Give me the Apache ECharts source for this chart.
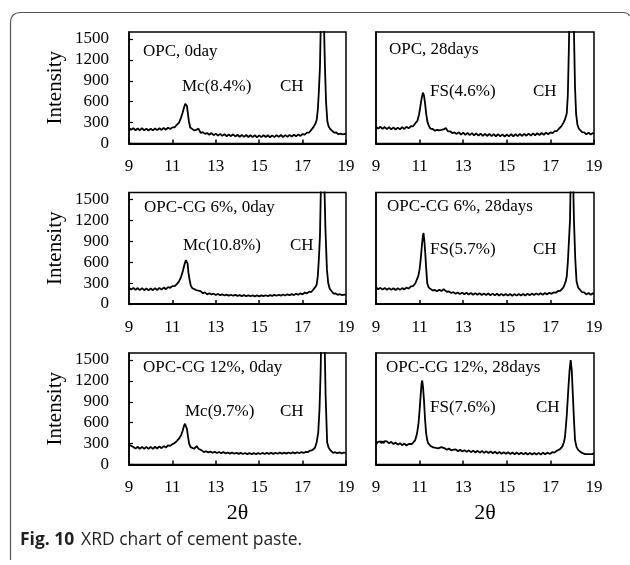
<!DOCTYPE html>
<html>
<head>
<meta charset="utf-8">
<script src="https://cdn.jsdelivr.net/npm/echarts@6/dist/echarts.min.js"></script>
<style>html,body{margin:0;padding:0;background:#fff}#c{width:630px;height:565px}</style>
</head>
<body>
<div id="c"></div>
<script>
// ---------------- data ----------------
var panelTitles = ['OPC, 0day', 'OPC, 28days', 'OPC-CG 6%, 0day', 'OPC-CG 6%, 28days', 'OPC-CG 12%, 0day', 'OPC-CG 12%, 28days'];
var peakLabels = ['Mc(8.4%)', 'FS(4.6%)', 'Mc(10.8%)', 'FS(5.7%)', 'Mc(9.7%)', 'FS(7.6%)'];
var chLabel = 'CH';
var xTicks = [9, 11, 13, 15, 17, 19];
var yTicks = [0, 300, 600, 900, 1200, 1500];
var xTitle = '2θ';
var yTitle = 'Intensity';
var caption = ['Fig. 10', 'XRD chart of cement paste.'];

var opc0 = [[9.0,222],[9.1,198],[9.2,220],[9.3,190],[9.4,216],[9.5,191],[9.6,219],[9.7,189],[9.8,214],[9.9,186],[10.0,211],[10.1,188],[10.2,216],[10.3,192],[10.4,218],[10.5,195],[10.6,222],[10.7,198],[10.8,226],[10.9,207],[11.0,232],[11.1,232],[11.2,266],[11.3,296],[11.4,372],[11.47,440],[11.53,510],[11.59,570],[11.63,590],[11.67,540],[11.71,440],[11.76,320],[11.82,230],[11.9,210],[12.0,188],[12.1,194],[12.2,214],[12.3,152],[12.4,162],[12.5,138],[12.6,150],[12.7,126],[12.8,150],[12.9,119],[13.0,142],[13.1,113],[13.2,138],[13.3,109],[13.4,134],[13.5,104],[13.6,130],[13.7,105],[13.8,132],[13.9,101],[14.0,126],[14.1,97],[14.2,124],[14.3,95],[14.4,122],[14.5,93],[14.6,120],[14.7,91],[14.8,118],[14.9,89],[15.0,116],[15.1,91],[15.2,120],[15.3,93],[15.4,118],[15.5,89],[15.6,116],[15.7,91],[15.8,120],[15.9,95],[16.0,122],[16.1,93],[16.2,120],[16.3,97],[16.4,124],[16.5,99],[16.6,126],[16.7,103],[16.8,130],[16.9,109],[17.0,136],[17.1,128],[17.2,156],[17.3,158],[17.4,196],[17.5,235],[17.6,290],[17.65,340],[17.7,480],[17.75,750],[17.8,1100],[17.85,1900],[17.91,2800],[17.97,1900],[18.03,1100],[18.08,600],[18.14,320],[18.2,245],[18.28,205],[18.36,188],[18.45,156],[18.55,158],[18.65,133],[18.75,141],[18.85,131],[18.95,139],[19.0,128]];

var opc28 = [[9.0,240],[9.1,214],[9.2,240],[9.3,209],[9.4,236],[9.5,206],[9.6,234],[9.7,203],[9.8,232],[9.9,201],[10.0,228],[10.1,203],[10.2,234],[10.3,209],[10.4,240],[10.5,217],[10.6,248],[10.7,247],[10.8,288],[10.9,326],[10.97,410],[11.03,520],[11.09,640],[11.15,730],[11.2,690],[11.25,580],[11.3,430],[11.36,310],[11.43,250],[11.5,212],[11.6,208],[11.7,184],[11.8,195],[11.9,190],[12.0,196],[12.1,202],[12.2,222],[12.3,174],[12.4,175],[12.5,150],[12.6,159],[12.7,138],[12.8,160],[12.9,128],[13.0,155],[13.1,124],[13.2,151],[13.3,120],[13.4,149],[13.5,118],[13.6,145],[13.7,114],[13.8,141],[13.9,110],[14.0,139],[14.1,108],[14.2,137],[14.3,106],[14.4,135],[14.5,104],[14.6,133],[14.7,102],[14.8,131],[14.9,100],[15.0,129],[15.1,102],[15.2,133],[15.3,104],[15.4,135],[15.5,106],[15.6,137],[15.7,108],[15.8,139],[15.9,112],[16.0,141],[16.1,114],[16.2,145],[16.3,118],[16.4,147],[16.5,122],[16.6,151],[16.7,126],[16.8,155],[16.9,132],[17.0,159],[17.1,150],[17.2,178],[17.3,179],[17.4,215],[17.5,245],[17.6,300],[17.65,330],[17.7,380],[17.75,430],[17.8,700],[17.85,1400],[17.9,2400],[17.97,3000],[18.04,2400],[18.08,1600],[18.13,800],[18.18,420],[18.24,270],[18.3,215],[18.38,194],[18.45,162],[18.55,160],[18.65,131],[18.75,155],[18.85,127],[18.95,152],[19.0,134]];

var cg6d0 = [[9.0,236],[9.1,207],[9.2,232],[9.3,202],[9.4,229],[9.5,199],[9.6,227],[9.7,198],[9.8,225],[9.9,196],[10.0,222],[10.1,198],[10.2,227],[10.3,201],[10.4,231],[10.5,206],[10.6,236],[10.7,212],[10.8,242],[10.9,233],[11.0,257],[11.1,256],[11.2,284],[11.3,320],[11.4,390],[11.48,470],[11.55,560],[11.62,630],[11.66,650],[11.7,580],[11.74,450],[11.79,350],[11.85,260],[11.92,226],[12.0,198],[12.1,200],[12.2,191],[12.3,184],[12.4,152],[12.5,168],[12.6,138],[12.7,155],[12.8,137],[12.9,148],[13.0,130],[13.1,143],[13.2,127],[13.3,139],[13.4,123],[13.5,135],[13.6,121],[13.7,133],[13.8,119],[13.9,130],[14.0,116],[14.1,128],[14.2,114],[14.3,127],[14.4,113],[14.5,125],[14.6,111],[14.7,124],[14.8,110],[14.9,123],[15.0,109],[15.1,124],[15.2,112],[15.3,126],[15.4,114],[15.5,128],[15.6,116],[15.7,130],[15.8,118],[15.9,133],[16.0,120],[16.1,136],[16.2,122],[16.3,139],[16.4,125],[16.5,142],[16.6,128],[16.7,146],[16.8,132],[16.9,153],[17.0,138],[17.1,165],[17.2,152],[17.3,178],[17.4,172],[17.5,210],[17.6,250],[17.65,280],[17.7,400],[17.75,650],[17.8,970],[17.85,1800],[17.92,2800],[17.99,1900],[18.05,1100],[18.12,500],[18.18,300],[18.25,220],[18.33,186],[18.42,150],[18.52,152],[18.62,132],[18.72,140],[18.82,128],[18.92,136],[19.0,126]];

var cg6d28 = [[9.0,238],[9.1,212],[9.2,232],[9.3,206],[9.4,230],[9.5,204],[9.6,228],[9.7,203],[9.8,226],[9.9,202],[10.0,225],[10.1,206],[10.2,228],[10.3,210],[10.4,236],[10.5,219],[10.6,252],[10.7,256],[10.8,294],[10.87,322],[10.94,400],[11.0,500],[11.05,640],[11.1,820],[11.15,980],[11.18,1018],[11.22,900],[11.26,730],[11.3,520],[11.35,298],[11.42,235],[11.5,218],[11.6,195],[11.7,201],[11.8,183],[11.9,205],[12.0,185],[12.1,212],[12.17,216],[12.25,176],[12.35,180],[12.45,158],[12.55,170],[12.65,146],[12.75,166],[12.85,142],[12.95,163],[13.05,139],[13.15,161],[13.25,136],[13.35,158],[13.45,134],[13.55,156],[13.65,132],[13.75,154],[13.85,130],[13.95,152],[14.05,129],[14.15,151],[14.25,126],[14.35,149],[14.45,124],[14.55,147],[14.65,122],[14.75,145],[14.85,121],[14.95,144],[15.05,120],[15.15,143],[15.25,119],[15.35,142],[15.45,120],[15.55,143],[15.65,121],[15.75,145],[15.85,123],[15.95,147],[16.05,125],[16.15,149],[16.25,128],[16.35,152],[16.45,131],[16.55,155],[16.65,134],[16.75,158],[16.85,138],[16.95,162],[17.05,146],[17.15,166],[17.25,162],[17.35,186],[17.45,190],[17.52,210],[17.6,240],[17.65,280],[17.7,320],[17.75,394],[17.8,600],[17.85,900],[17.9,1210],[17.94,2000],[17.98,2600],[18.03,2000],[18.08,1210],[18.14,650],[18.2,322],[18.28,230],[18.36,206],[18.45,172],[18.55,166],[18.65,138],[18.75,158],[18.85,132],[18.95,154],[19.0,140]];

var cg12d0 = [[9.0,312],[9.03,280],[9.07,262],[9.12,254],[9.2,250],[9.3,228],[9.4,254],[9.5,226],[9.6,254],[9.7,225],[9.8,253],[9.9,224],[10.0,252],[10.1,225],[10.2,255],[10.3,230],[10.4,259],[10.5,234],[10.6,265],[10.7,242],[10.8,274],[10.9,268],[11.0,292],[11.1,306],[11.2,336],[11.3,370],[11.4,420],[11.47,480],[11.53,550],[11.58,585],[11.63,560],[11.67,510],[11.72,400],[11.77,300],[11.84,250],[11.92,230],[12.0,226],[12.06,244],[12.12,264],[12.2,226],[12.27,200],[12.35,203],[12.45,178],[12.55,190],[12.65,174],[12.75,186],[12.85,168],[12.95,182],[13.05,164],[13.15,180],[13.25,162],[13.35,178],[13.45,158],[13.55,173],[13.65,156],[13.75,171],[13.85,154],[13.95,169],[14.05,152],[14.15,167],[14.25,150],[14.35,165],[14.45,149],[14.55,164],[14.65,148],[14.75,163],[14.85,149],[14.95,164],[15.05,150],[15.15,166],[15.25,151],[15.35,167],[15.45,152],[15.55,168],[15.65,153],[15.75,169],[15.85,154],[15.95,170],[16.05,155],[16.15,171],[16.25,156],[16.35,172],[16.45,158],[16.55,174],[16.65,160],[16.75,176],[16.85,162],[16.95,178],[17.05,166],[17.15,182],[17.25,178],[17.35,200],[17.45,205],[17.5,220],[17.57,240],[17.65,320],[17.72,456],[17.78,800],[17.83,1320],[17.88,2200],[17.94,2800],[18.0,2000],[18.06,1000],[18.13,320],[18.2,240],[18.3,198],[18.4,168],[18.5,176],[18.6,162],[18.7,174],[18.8,160],[18.9,172],[19.0,162]];

var cg12d28 = [[9.0,290],[9.04,308],[9.1,326],[9.15,298],[9.2,332],[9.25,302],[9.3,336],[9.35,306],[9.4,336],[9.45,308],[9.5,332],[9.6,304],[9.7,326],[9.8,294],[9.9,314],[10.0,284],[10.1,306],[10.2,277],[10.3,300],[10.4,272],[10.5,296],[10.57,272],[10.65,294],[10.72,310],[10.8,350],[10.88,440],[10.95,590],[11.0,780],[11.05,1000],[11.09,1160],[11.12,1205],[11.16,1100],[11.2,926],[11.25,650],[11.3,446],[11.35,350],[11.4,302],[11.5,265],[11.63,245],[11.75,238],[11.85,232],[11.93,246],[12.0,250],[12.07,232],[12.15,232],[12.25,210],[12.35,230],[12.45,202],[12.56,214],[12.66,218],[12.76,190],[12.86,212],[12.96,186],[13.06,206],[13.16,181],[13.26,203],[13.36,177],[13.46,199],[13.56,173],[13.66,196],[13.76,170],[13.86,193],[13.96,167],[14.06,189],[14.16,164],[14.26,186],[14.36,161],[14.46,183],[14.56,158],[14.66,180],[14.76,155],[14.86,177],[14.96,153],[15.06,175],[15.16,150],[15.26,173],[15.36,148],[15.46,171],[15.56,146],[15.66,169],[15.76,145],[15.86,168],[15.96,144],[16.06,167],[16.16,143],[16.26,166],[16.36,143],[16.46,167],[16.56,144],[16.66,168],[16.76,146],[16.86,170],[16.98,150],[17.08,176],[17.18,170],[17.28,194],[17.36,196],[17.44,220],[17.55,260],[17.62,320],[17.67,398],[17.75,700],[17.82,1070],[17.88,1350],[17.93,1500],[17.98,1350],[18.02,1070],[18.08,650],[18.13,350],[18.2,250],[18.28,206],[18.36,192],[18.45,166],[18.52,170],[18.59,150],[18.68,172],[18.76,149],[18.84,170],[18.92,148],[19.0,164]];

var seriesData = [opc0, opc28, cg6d0, cg6d28, cg12d0, cg12d28];

// ---------------- layout ----------------
var SERIF = 'Liberation Serif, Times New Roman, serif';
var colLeft = [129, 376];
var colWidth = [217, 218];
var rowTop = [32, 192.5, 353];
var rowHeight = 111.5;
var textPos = [
  [[143, 52], [182, 87], [280, 87]],
  [[389, 50], [430, 92], [533, 92]],
  [[144, 208], [183, 246], [290, 246]],
  [[387, 207], [430, 250], [533, 250]],
  [[143, 368], [185, 412], [280, 412]],
  [[386, 368], [430, 408], [536, 408]]
];

var grids = [], xAxes = [], yAxes = [], series = [], graphics = [];
for (var i = 0; i < 6; i++) {
  var row = Math.floor(i / 2), col = i % 2;
  grids.push({
    left: colLeft[col], top: rowTop[row], width: colWidth[col], height: rowHeight,
    show: true, borderColor: '#000', borderWidth: 1.5, backgroundColor: 'transparent'
  });
  xAxes.push({
    type: 'value', gridIndex: i, min: xTicks[0], max: xTicks[xTicks.length - 1], interval: 2,
    axisLine: { lineStyle: { color: '#000', width: 2 } },
    axisTick: { inside: true, length: 4, lineStyle: { color: '#000', width: 1.5 } },
    axisLabel: { color: '#000', fontFamily: SERIF, fontSize: 17, margin: 15 },
    splitLine: { show: false },
    name: row === 2 ? xTitle : '', nameLocation: 'middle', nameGap: 38,
    nameTextStyle: { color: '#000', fontFamily: SERIF, fontSize: 22 }
  });
  yAxes.push({
    type: 'value', gridIndex: i, min: yTicks[0], max: 1600, interval: 300,
    axisLine: { show: true, lineStyle: { color: '#000', width: 1.5 } },
    axisTick: { show: col === 0, inside: true, length: 4, lineStyle: { color: '#000', width: 1.2 } },
    axisLabel: {
      show: col === 0, showMaxLabel: false, color: '#000', fontFamily: SERIF, fontSize: 17, margin: 20,
      formatter: function (v) { return String(v); }
    },
    splitLine: { show: false },
    name: col === 0 ? yTitle : '', nameLocation: 'middle', nameGap: 63, nameRotate: 90,
    nameTextStyle: { color: '#000', fontFamily: SERIF, fontSize: 21 }
  });
  series.push({
    type: 'line', xAxisIndex: i, yAxisIndex: i, data: seriesData[i],
    symbol: 'none', showSymbol: false, clip: true,
    lineStyle: { color: '#000', width: 1.8 }, silent: true
  });
  var texts = [panelTitles[i], peakLabels[i], chLabel];
  for (var k = 0; k < 3; k++) {
    graphics.push({
      type: 'text', x: textPos[i][k][0], y: textPos[i][k][1],
      style: { text: texts[k], fill: '#000', fontFamily: SERIF, fontSize: 17, verticalAlign: 'middle', align: 'left' }
    });
  }
}

// frame (top + left edges, rounded corners)
var frameStyle = { stroke: '#555', lineWidth: 1.2, fill: null };
graphics.push({ type: 'line', shape: { x1: 10.5, y1: 560, x2: 10.5, y2: 23 }, style: frameStyle });
graphics.push({ type: 'bezierCurve', shape: { x1: 10.5, y1: 23, cpx1: 10.5, cpy1: 12.5, x2: 21, y2: 12.5 }, style: frameStyle });
graphics.push({ type: 'line', shape: { x1: 21, y1: 12.5, x2: 623, y2: 12.5 }, style: frameStyle });
graphics.push({ type: 'bezierCurve', shape: { x1: 623, y1: 12.5, cpx1: 628, cpy1: 12.5, x2: 629.5, y2: 16 }, style: frameStyle });
// caption
graphics.push({
  type: 'text', x: 20, y: 540,
  style: {
    text: '{b|' + caption[0] + '}  {n|' + caption[1] + '}',
    verticalAlign: 'middle',
    rich: {
      b: { fontFamily: 'Open Sans, Noto Sans, sans-serif', fontWeight: 'bold', fontSize: 17.5, fill: '#231f20' },
      n: { fontFamily: 'Open Sans, Noto Sans, sans-serif', fontSize: 17.5, fill: '#231f20' }
    }
  }
});

var chart = echarts.init(document.getElementById('c'), null, { renderer: 'canvas' });
chart.setOption({
  animation: false,
  backgroundColor: '#fff',
  grid: grids, xAxis: xAxes, yAxis: yAxes, series: series,
  graphic: graphics
});
</script>
</body>
</html>
